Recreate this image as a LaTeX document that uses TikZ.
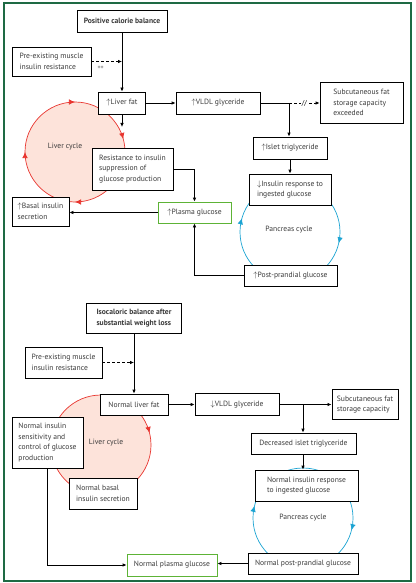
\documentclass[tikz,border=0pt]{standalone}
\usepackage{fontspec}
\setmainfont{PT Sans}
\usepackage{tikz}
\usetikzlibrary{arrows.meta}
\usetikzlibrary{decorations.markings}
\usepackage{xcolor}
\definecolor{framegreen}{HTML}{1E6A44}
\definecolor{boxgreen}{HTML}{5DB336}
\definecolor{cyclered}{HTML}{E8352F}
\definecolor{cyclepink}{HTML}{FDE3DA}
\definecolor{cycleblue}{HTML}{1BA3D2}
\definecolor{txtgrey}{HTML}{3A3A3A}
\newcommand{\incr}{$\uparrow$}
\newcommand{\decr}{$\downarrow$}

\begin{document}
\begin{tikzpicture}[x=1pt,y=1pt,
    >={Latex[length=4pt,width=3.6pt]},
    box/.style={draw,fill=white,line width=0.8pt,align=left,text=txtgrey,
        font=\fontsize{7.6}{10.5}\selectfont,inner xsep=5pt,inner ysep=2pt},
    boldbox/.style={box,font=\fontsize{7.6}{10.5}\selectfont\bfseries},
    greenbox/.style={box,draw=boxgreen},
    cyclelabel/.style={text=txtgrey,font=\fontsize{7.6}{10.5}\selectfont},
    link/.style={line width=0.8pt,->},
    livercycle/.style={draw=cyclered,fill=cyclepink,line width=0.7pt},
    pancycle/.style={draw=cycleblue,line width=0.7pt}]
    \useasboundingbox (0,0) rectangle (415,-583);
    % frame
    \draw[framegreen,line width=1.3pt] (4,-3) rectangle (411,-581);

    % cycles, upper part
    \draw[livercycle,postaction={decorate},decoration={markings,
        mark=at position 0.042 with {\arrowreversed{Latex[length=6pt,width=5.5pt]}},
        mark=at position 0.25 with {\arrowreversed{Latex[length=6pt,width=5.5pt]}},
        mark=at position 0.5 with {\arrowreversed{Latex[length=6pt,width=5.5pt]}},
        mark=at position 0.75 with {\arrowreversed{Latex[length=6pt,width=5.5pt]}}}]
        (75,-152) circle (50);
    \draw[pancycle,postaction={decorate},decoration={markings,
        mark=at position 0.456 with {\arrowreversed{Latex[length=6pt,width=5.5pt]}},
        mark=at position 0.964 with {\arrowreversed{Latex[length=6pt,width=5.5pt]}}}]
        (290,-232) circle (50);
    \node[cyclelabel] (livertxt) at (65,-147) {Liver cycle};
    \node[cyclelabel] (pantxt) at (289,-230) {Pancreas cycle};

    % boxes, upper part
    \node[boldbox,minimum width=90pt,minimum height=22pt] (pos) at (122,-21) {Positive calorie balance};
    \node[box,minimum width=79pt,minimum height=29pt] (pre) at (51.5,-61.5) {Pre-existing muscle\\insulin resistance};
    \node[box,minimum width=47pt,minimum height=22pt] (liver) at (122,-103) {\incr Liver fat};
    \node[box,minimum width=84pt,minimum height=22pt] (vldl) at (218,-103) {\incr VLDL glyceride};
    \node[box,minimum width=83pt,minimum height=41pt] (subc) at (361.5,-102.5) {Subcutaneous fat\\storage capacity\\exceeded};
    \node[box,minimum width=74pt,minimum height=22pt] (islet) at (290,-148) {\incr Islet triglyceride};
    \node[box,minimum width=82pt,minimum height=31pt] (resp) at (290,-189.5) {\decr Insulin response to\\ingested glucose};
    \node[box,minimum width=93pt,minimum height=21pt] (post) at (290.5,-275.5) {\incr Post-prandial glucose};
    \node[box,minimum width=81pt,minimum height=42pt] (resist) at (132.5,-169) {Resistance to insulin\\suppression of\\glucose production};
    \node[box,minimum width=57pt,minimum height=29pt] (basal) at (40.5,-211.5) {\incr Basal insulin\\secretion};
    \node[greenbox,minimum width=73pt,minimum height=21pt] (plasma) at (194.5,-212.5) {\incr Plasma glucose};
    \coordinate (fork) at (289,-103);
    \coordinate (livertip) at (122,-127);

    % links, upper part
    \draw[link] (pos) -- (liver);
    \draw[link,densely dashed] (pre.east) -- (pre.east -| liver.north)
        node[pos=0.3,below=1pt,text=txtgrey,font=\fontsize{6}{7}\selectfont] (plus) {++};
    \draw[link] (liver) -- (vldl);
    \draw[link] (liver.south) -- (livertip);
    \draw[line width=0.8pt] (vldl.east) -- (fork);
    \draw[link,densely dashed] (fork) -- (fork -| subc.west)
        node[midway,fill=white,inner sep=0.5pt,font=\fontsize{7}{8}\selectfont] (cut) {//};
    \draw[link] (fork) -- (fork |- islet.north);
    \draw[link] (islet) -- (resp);
    \draw[link] (resist.east) -| (plasma.north);
    \draw[link] (post.west) -| (plasma.south);
    \draw[link] (plasma.west) -- (plasma.west -| basal.east);

    % cycles, lower part
    \draw[livercycle,postaction={decorate},decoration={markings,
        mark=at position 0.039 with {\arrowreversed{Latex[length=6pt,width=5.5pt]}}}]
        (101,-445) circle (50);
    \draw[pancycle,postaction={decorate},decoration={markings,
        mark=at position 0.461 with {\arrowreversed{Latex[length=6pt,width=5.5pt]}},
        mark=at position 0.961 with {\arrowreversed{Latex[length=6pt,width=5.5pt]}}}]
        (303,-518) circle (50);
    \node[cyclelabel] (livertxt2) at (106,-443) {Liver cycle};
    \node[cyclelabel] (pantxt2) at (303,-518) {Pancreas cycle};

    % boxes, lower part
    \node[boldbox,minimum width=95pt,minimum height=30pt] (iso) at (134,-318) {Isocaloric balance after\\substantial weight loss};
    \node[box,minimum width=77pt,minimum height=31pt] (pre2) at (63.5,-362.5) {Pre-existing muscle\\insulin resistance};
    \node[box,minimum width=68pt,minimum height=21pt] (liver2) at (134,-404.5) {Normal liver fat};
    \node[box,minimum width=84pt,minimum height=22pt] (vldl2) at (237,-404.5) {\decr VLDL glyceride};
    \node[box,minimum width=64pt,minimum height=30pt] (subc2) at (365,-404.5) {Subcutaneous fat\\storage capacity};
    \node[box,minimum width=105pt,minimum height=21pt] (islet2) at (303.5,-443.5) {Decreased islet triglyceride};
    \node[box,minimum width=103pt,minimum height=31pt] (resp2) at (306.5,-485.5) {Normal insulin response\\to ingested glucose};
    \node[box,minimum width=110pt,minimum height=21pt] (post2) at (303,-563.5) {Normal post-prandial glucose};
    \node[greenbox,minimum width=90pt,minimum height=22pt] (plasma2) at (172,-565) {Normal plasma glucose};
    \node[box,minimum width=71pt,minimum height=51pt] (sens) at (47.5,-442.5) {Normal insulin\\sensitivity and\\control of glucose\\production};
    \node[box,minimum width=68pt,minimum height=31pt] (basal2) at (103,-493.5) {Normal basal\\insulin secretion};
    \coordinate (fork2) at (303,-404.5);

    % links, lower part
    \draw[link] (iso.south -| liver2.north) -- (liver2.north);
    \draw[link,densely dashed] (pre2.east) -- (pre2.east -| liver2.north);
    \draw[link] (liver2.east) -- (liver2.east -| vldl2.west);
    \draw[line width=0.8pt] (vldl2.east) -- (fork2);
    \draw[link] (fork2) -- (fork2 -| subc2.west);
    \draw[link] (fork2) -- (fork2 |- islet2.north);
    \draw[link] (islet2.south -| fork2) -- (fork2 |- resp2.north);
    \draw[link] (sens.south) |- (plasma2.west);
    \draw[link] (post2.west) -- (post2.west -| plasma2.east);
\end{tikzpicture}
\end{document}
